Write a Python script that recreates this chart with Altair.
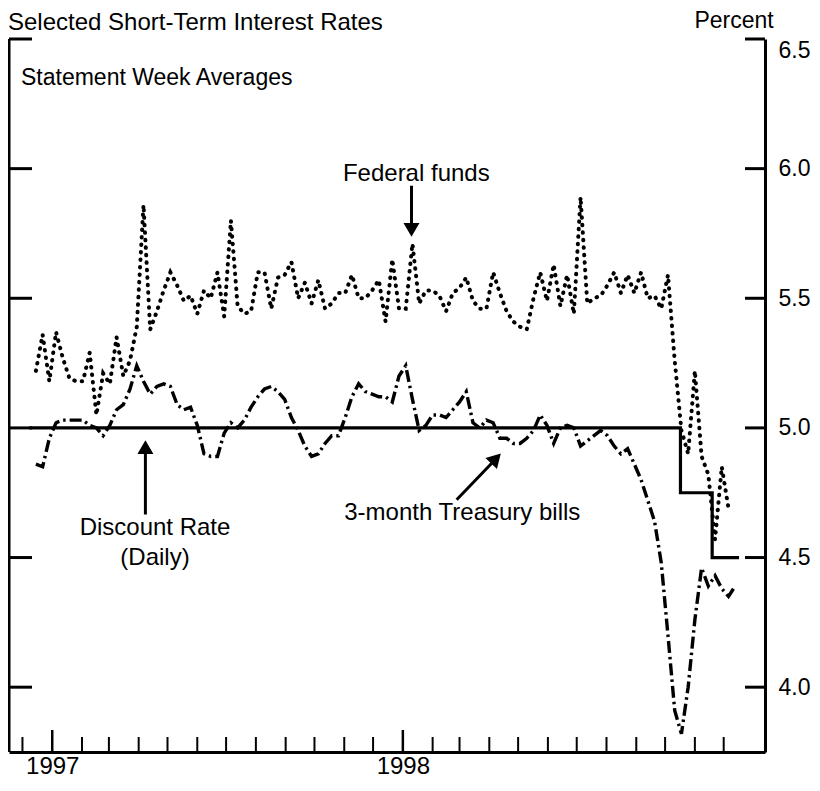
import altair as alt
import pandas as pd

W, H = 756, 713
FONT = "Liberation Sans"

# ---- data ----
fed_funds = [5.22, 5.36, 5.18, 5.37, 5.27, 5.19, 5.18, 5.18, 5.29, 5.05,
             5.21, 5.17, 5.35, 5.20, 5.26, 5.39, 5.86, 5.38, 5.45, 5.53,
             5.60, 5.55, 5.49, 5.51, 5.44, 5.53, 5.50, 5.60, 5.43, 5.80,
             5.47, 5.44, 5.45, 5.60, 5.60, 5.46, 5.58, 5.59, 5.64, 5.50,
             5.56, 5.48, 5.57, 5.46, 5.48, 5.52, 5.52, 5.59, 5.50, 5.50,
             5.53, 5.57, 5.41, 5.65, 5.46, 5.46, 5.71, 5.48, 5.53, 5.53,
             5.51, 5.45, 5.52, 5.54, 5.58, 5.49, 5.46, 5.46, 5.60, 5.52,
             5.45, 5.41, 5.39, 5.38, 5.50, 5.60, 5.49, 5.63, 5.47, 5.59,
             5.44, 5.89, 5.48, 5.50, 5.51, 5.55, 5.60, 5.52, 5.59, 5.52,
             5.60, 5.50, 5.51, 5.46, 5.59, 5.26, 4.99, 4.90, 5.22, 4.89,
             4.82, 4.57, 4.85, 4.69]

tbills = [4.86, 4.85, 4.96, 5.02, 5.03, 5.03, 5.03, 5.03, 5.01, 5.00,
          4.97, 5.01, 5.07, 5.09, 5.15, 5.24, 5.18, 5.13, 5.16, 5.17,
          5.16, 5.09, 5.07, 5.08, 5.01, 4.90, 4.89, 4.89, 4.98, 5.02,
          5.00, 5.03, 5.08, 5.12, 5.15, 5.16, 5.14, 5.11, 5.04, 4.99,
          4.93, 4.89, 4.90, 4.94, 4.97, 4.97, 5.04, 5.12, 5.17, 5.14,
          5.13, 5.12, 5.12, 5.10, 5.20, 5.24, 5.11, 4.99, 5.01, 5.05,
          5.05, 5.04, 5.07, 5.10, 5.14, 5.02, 5.00, 5.03, 5.02, 4.96,
          4.96, 4.94, 4.94, 4.96, 4.99, 5.05, 5.01, 4.94, 5.00, 5.01,
          5.00, 4.93, 4.95, 4.97, 4.99, 4.97, 4.93, 4.90, 4.92, 4.86,
          4.80, 4.72, 4.64, 4.48, 4.20, 3.91, 3.82, 4.00, 4.26, 4.46,
          4.39, 4.43, 4.38, 4.35, 4.39]

week_dates = pd.date_range("1996-12-15", periods=len(tbills), freq="7D").strftime("%Y-%m-%d").tolist()

discount_dates = ["1996-12-08", "1998-10-17", "1998-11-19", "1998-12-17"]
discount_rate = [5.00, 4.75, 4.50, 4.50]

month_ticks = pd.date_range("1996-12-01", "1998-12-01", freq="MS").strftime("%Y-%m-%d").tolist()
year_ticks = ["1997-01-01", "1998-01-01"]
short_ticks = [d for d in month_ticks if d not in year_ticks]
y_ticks = [4.0, 4.5, 5.0, 5.5, 6.0, 6.5]

# annotation anchors (data coordinates)
label_text = ["Federal funds", "Discount Rate", "(Daily)"]
label_date = ["1998-01-15", "1997-04-18", "1997-04-18"]
label_rate = [5.981, 4.615, 4.50]

tb_label = ["3-month Treasury bills"]
tb_label_date = ["1997-11-01"]
tb_label_rate = [4.671]

# ---- frames ----
ff_df = pd.DataFrame({"date": week_dates[:len(fed_funds)], "rate": fed_funds})
tb_df = pd.DataFrame({"date": week_dates, "rate": tbills})
dr_df = pd.DataFrame({"date": discount_dates, "rate": discount_rate})

xscale = alt.Scale(type="utc", domain=[alt.DateTime(year=1996, month=11, date=17, utc=True),
                                       alt.DateTime(year=1999, month=1, date=13, utc=True)])
yscale = alt.Scale(domain=[3.75, 6.5], nice=False, zero=False)

xaxis = alt.Axis(orient="bottom", values=[alt.DateTime(year=1997, month=1, date=1, utc=True),
                                          alt.DateTime(year=1998, month=1, date=1, utc=True)],
                 format="%Y", ticks=False, grid=False, domain=True, domainWidth=3,
                 domainColor="black", labelFontSize=24, labelPadding=2, labelFlush=False,
                 labelFont=FONT, labelColor="black", title=None)
yaxis = alt.Axis(orient="right", values=y_ticks, format=".1f", ticks=False, grid=False,
                 domain=True, domainWidth=3, domainColor="black", labelFontSize=23,
                 labelPadding=13, labelFlush=True, labelFont=FONT, labelColor="black", title=None)


def X(field):
    return alt.X(field, scale=xscale, axis=xaxis)


def Y(field):
    return alt.Y(field, scale=yscale, axis=yaxis)


discount = alt.Chart(dr_df).mark_line(interpolate="step-after", color="black", strokeWidth=3.2).encode(
    x=X("date:T"), y=Y("rate:Q"))

fed = alt.Chart(ff_df).mark_line(color="black", strokeWidth=4, strokeDash=[0.5, 7], strokeCap="round").encode(
    x=X("date:T"), y=Y("rate:Q"))

tb = alt.Chart(tb_df).mark_line(color="black", strokeWidth=3.4, strokeDash=[12, 4, 2.5, 4]).encode(
    x=X("date:T"), y=Y("rate:Q"))

# frame pieces and inward ticks
left_line = alt.Chart(pd.DataFrame({"a": [0]})).mark_rule(color="black", strokeWidth=3).encode(
    x=alt.value(0), y=alt.value(0), y2=alt.value(H))
left_ticks = alt.Chart(pd.DataFrame({"v": y_ticks})).mark_rule(color="black", strokeWidth=3).encode(
    y=Y("v:Q"), x=alt.value(0), x2=alt.value(23))
right_ticks = alt.Chart(pd.DataFrame({"v": y_ticks})).mark_rule(color="black", strokeWidth=3).encode(
    y=Y("v:Q"), x=alt.value(W - 20), x2=alt.value(W))
month_rules = alt.Chart(pd.DataFrame({"d": short_ticks})).mark_rule(color="black", strokeWidth=2).encode(
    x=X("d:T"), y=alt.value(H), y2=alt.value(H - 15))
year_rules = alt.Chart(pd.DataFrame({"d": year_ticks})).mark_rule(color="black", strokeWidth=2.5).encode(
    x=X("d:T"), y=alt.value(H), y2=alt.value(H - 22))

# annotations
labels = alt.Chart(pd.DataFrame({"date": label_date, "rate": label_rate, "t": label_text})).mark_text(
    font=FONT, fontSize=24, color="black", align="center", baseline="middle").encode(
    x=X("date:T"), y=Y("rate:Q"), text="t:N")
tb_labels = alt.Chart(pd.DataFrame({"date": tb_label_date, "rate": tb_label_rate, "t": tb_label})).mark_text(
    font=FONT, fontSize=24, color="black", align="left", baseline="middle").encode(
    x=X("date:T"), y=Y("rate:Q"), text="t:N")

shaft_df = pd.DataFrame({
    "d1": ["1998-01-10", "1997-04-08", "1998-02-26"],
    "d2": ["1998-01-10", "1997-04-08", "1998-04-07"],
    "r1": [5.934, 4.666, 4.723],
    "r2": [5.768, 4.928, 4.877],
})
shafts = alt.Chart(shaft_df).mark_rule(color="black", strokeWidth=3).encode(
    x=X("d1:T"), x2="d2:T", y=Y("r1:Q"), y2="r2:Q")

head_down = alt.Chart(pd.DataFrame({"date": ["1998-01-10"], "rate": [5.764]})).mark_point(
    shape="triangle-down", filled=True, size=256, color="black", opacity=1).encode(
    x=X("date:T"), y=Y("rate:Q"))
head_up = alt.Chart(pd.DataFrame({"date": ["1997-04-08"], "rate": [4.926]})).mark_point(
    shape="triangle-up", filled=True, size=256, color="black", opacity=1).encode(
    x=X("date:T"), y=Y("rate:Q"))
head_diag = alt.Chart(pd.DataFrame({"date": ["1998-04-08"], "rate": [4.882]})).mark_point(
    shape="triangle-up", filled=True, size=256, color="black", opacity=1, angle=44).encode(
    x=X("date:T"), y=Y("rate:Q"))

# titles as text
title = alt.Chart(pd.DataFrame({"t": ["Selected Short-Term Interest Rates"]})).mark_text(
    font=FONT, fontSize=24, color="black", align="left", baseline="middle").encode(
    x=alt.value(-1), y=alt.value(-16), text="t:N")
percent = alt.Chart(pd.DataFrame({"t": ["Percent"]})).mark_text(
    font=FONT, fontSize=23, color="black", align="center", baseline="middle").encode(
    x=alt.value(725), y=alt.value(-18), text="t:N")
subtitle = alt.Chart(pd.DataFrame({"t": ["Statement Week Averages"]})).mark_text(
    font=FONT, fontSize=23, color="black", align="left", baseline="middle").encode(
    x=alt.value(12), y=alt.value(39), text="t:N")

chart = alt.layer(
    discount, tb, fed, left_line, left_ticks, right_ticks, month_rules, year_rules,
    shafts, head_down, head_up, head_diag, labels, tb_labels, title, percent, subtitle
).properties(
    width=W, height=H,
    padding={"left": 1, "top": 31, "right": 47, "bottom": 26},
    autosize=alt.AutoSizeParams(type="none"),
    background="white",
).configure_view(stroke=None)

chart.save("out.html", embed_options={"renderer": "svg", "actions": False})
